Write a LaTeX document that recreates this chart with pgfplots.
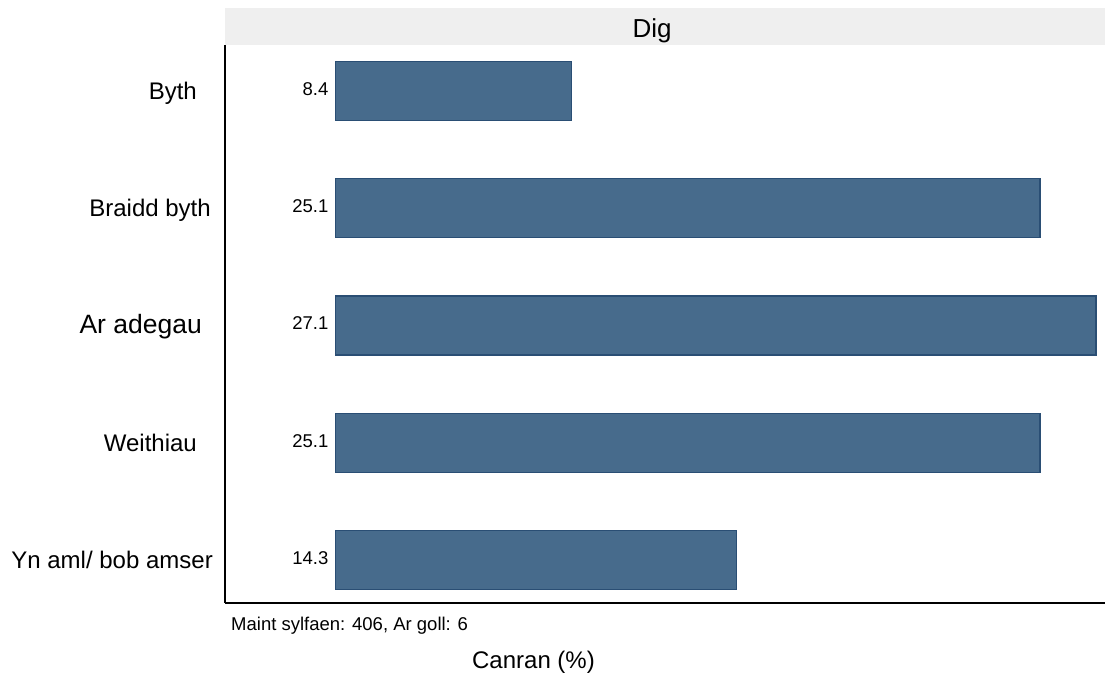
\documentclass[border=0pt]{standalone}
\usepackage{fontspec}
\setmainfont{Liberation Sans}
\usepackage{pgfplots}
\pgfplotsset{compat=1.18}
\usepackage{pgfplotstable}
\definecolor{barblue}{RGB}{71,107,140}
\definecolor{baredge}{RGB}{42,78,116}
\definecolor{stripgray}{RGB}{239,239,239}
\pgfplotstableread{
y x lab
1 8.4 8.4
2 25.1 25.1
3 27.1 27.1
4 25.1 25.1
5 14.3 14.3
}\datatable
\begin{document}
\begin{tikzpicture}
\useasboundingbox (0pt,0pt) rectangle (1105pt,675pt);
\fill[stripgray] (225pt,630pt) rectangle (1105pt,667pt);
\node[anchor=base, font=\fontsize{26}{30}\selectfont, inner sep=0pt] at (652pt,637.7pt) {Dig};
\begin{axis}[
  at={(225pt,72pt)}, anchor=south west,
  scale only axis, width=880pt, height=558pt,
  xmin=-3.938, xmax=27.42,
  ymin=0.608, ymax=5.367, y dir=reverse,
  axis x line=bottom, axis y line=left,
  axis line style={-, line width=1.4pt, black},
  xtick=\empty,
  ytick={1,2,3,4,5},
  major tick length=0pt,
  yticklabels={
    Byth\rule{16pt}{0pt},
    Braidd byth\rule{2pt}{0pt},
    {\fontsize{26.5}{30}\selectfont Ar adegau\rule{11pt}{0pt}},
    Weithiau\rule{16pt}{0pt},
    Yn aml/ bob amser},
  yticklabel style={anchor=base east, inner sep=0pt, xshift=-12pt, yshift=-8.5pt, font=\fontsize{24}{28}\selectfont},
  clip=false,
]
\addplot[xbar, bar width=59pt, fill=barblue, draw=baredge, line width=1.2pt] table[x=x, y=y] {\datatable};
\addplot[draw=none, mark=none, nodes near coords, point meta=explicit symbolic,
  nodes near coords style={anchor=base east, inner sep=0pt, xshift=-7pt, yshift=-4.5pt, font=\fontsize{18.5}{21}\selectfont, black}]
  table[x expr=0, y=y, meta=lab] {\datatable};
\end{axis}
\node[anchor=base west, inner sep=0pt, font=\fontsize{18.5}{21}\selectfont] at (231pt,45pt) {Maint sylfaen: 406, Ar goll: 6};
\node[anchor=base, inner sep=0pt, font=\fontsize{24}{28}\selectfont] at (533.5pt,7pt) {Canran (\%)};
\end{tikzpicture}
\end{document}
